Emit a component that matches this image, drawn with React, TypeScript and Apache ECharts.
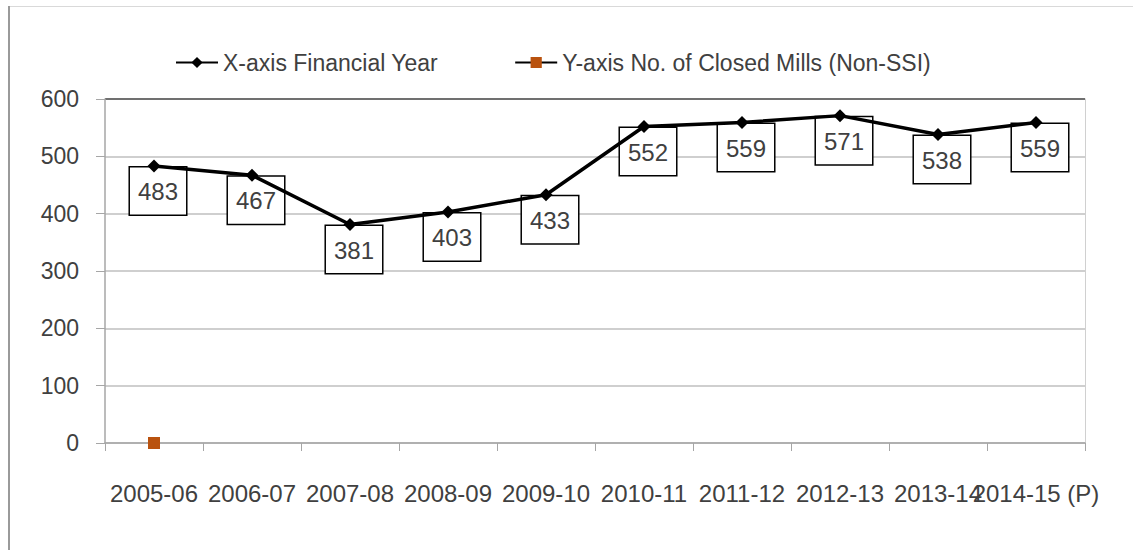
import React, { useEffect, useRef } from "react";
import * as echarts from "echarts";

const categories = [
  "2005-06",
  "2006-07",
  "2007-08",
  "2008-09",
  "2009-10",
  "2010-11",
  "2011-12",
  "2012-13",
  "2013-14",
  "2014-15 (P)",
];
const closedMills = [483, 467, 381, 403, 433, 552, 559, 571, 538, 559];
const secondSeries = [0, null, null, null, null, null, null, null, null, null];
const seriesNames = ["X-axis Financial Year", "Y-axis No. of Closed Mills (Non-SSI)"];
const yTicks = { min: 0, max: 600, interval: 100 };

const FONT = "'Liberation Sans', 'Noto Sans', sans-serif";

export default function App() {
  const ref = useRef<HTMLDivElement>(null);
  useEffect(() => {
    if (!ref.current) return;
    const chart = echarts.init(ref.current, undefined, { renderer: "svg" });
    chart.setOption({
      animation: false,
      backgroundColor: "#ffffff",
      textStyle: { fontFamily: FONT },
      graphic: [
        {
          type: "line",
          shape: { x1: 8, y1: 6.5, x2: 1133, y2: 6.5 },
          style: { stroke: "#d9d9d9", lineWidth: 1 },
          silent: true,
        },
        {
          type: "line",
          shape: { x1: 9, y1: 6, x2: 9, y2: 550 },
          style: { stroke: "#9a9a9a", lineWidth: 2 },
          silent: true,
        },
      ],
      legend: {
        left: 170,
        top: 46,
        itemWidth: 42,
        itemHeight: 14,
        itemGap: 76,
        textStyle: { fontSize: 23, color: "#404040", fontFamily: FONT },
        data: seriesNames,
      },
      grid: { left: 105, right: 48, top: 99, bottom: 107, containLabel: false },
      xAxis: {
        type: "category",
        data: categories,
        boundaryGap: true,
        axisLine: { show: true, lineStyle: { color: "#a6a6a6", width: 1.5 } },
        axisTick: { show: true, length: 8, lineStyle: { color: "#a6a6a6" } },
        axisLabel: {
          interval: 0,
          fontSize: 24,
          color: "#404040",
          margin: 38,
          fontFamily: FONT,
        },
      },
      yAxis: [
        {
          type: "value",
          min: yTicks.min,
          max: yTicks.max,
          interval: yTicks.interval,
          axisLine: { show: true, lineStyle: { color: "#a6a6a6", width: 1.5 } },
          axisTick: { show: true, length: 9, lineStyle: { color: "#a6a6a6" } },
          axisLabel: { fontSize: 23, color: "#404040", margin: 26, fontFamily: FONT },
          splitLine: {
            show: true,
            lineStyle: {
              color: ["#bfbfbf", "#bfbfbf", "#bfbfbf", "#bfbfbf", "#bfbfbf", "#bfbfbf", "#404040"],
              width: 1.5,
            },
          },
        },
        {
          type: "value",
          position: "right",
          min: yTicks.min,
          max: yTicks.max,
          interval: yTicks.interval,
          axisLine: { show: true, lineStyle: { color: "#d0d0d0", width: 1 } },
          axisTick: { show: false },
          axisLabel: { show: false },
          splitLine: { show: false },
        },
      ],
      series: [
        {
          name: "labels",
          type: "line",
          data: closedMills,
          symbol: "diamond",
          symbolSize: 13,
          itemStyle: { color: "rgba(0,0,0,0)" },
          lineStyle: { opacity: 0 },
          silent: true,
          label: {
            show: true,
            position: "bottom",
            distance: -5,
            offset: [4, 0],
            fontSize: 24,
            lineHeight: 24,
            color: "#404040",
            fontFamily: FONT,
            backgroundColor: "#ffffff",
            borderColor: "#000000",
            borderWidth: 1.5,
            padding: [12, 8, 11, 8],
          },
          z: 2,
        },
        {
          name: seriesNames[0],
          type: "line",
          data: closedMills,
          symbol: "diamond",
          symbolSize: 13,
          itemStyle: { color: "#000000" },
          lineStyle: { color: "#000000", width: 3.5 },
          z: 6,
        },
        {
          name: seriesNames[1],
          type: "line",
          data: secondSeries,
          symbol: "rect",
          symbolSize: 12,
          itemStyle: { color: "#b9520f" },
          lineStyle: { color: "#000000", width: 3.5 },
          z: 7,
        },
      ],
    });
    return () => chart.dispose();
  }, []);
  return (
    <div
      ref={ref}
      style={{ position: "fixed", left: 0, top: 0, width: 1133, height: 550 }}
    />
  );
}
